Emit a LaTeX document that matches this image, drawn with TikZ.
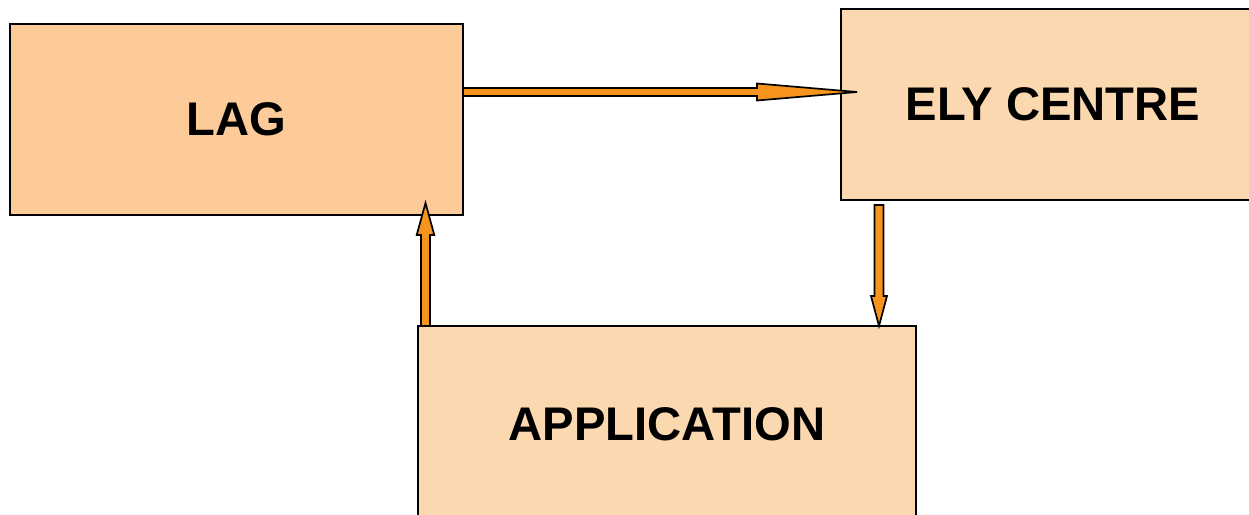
\documentclass[tikz,border=0pt]{standalone}
\usepackage{fontspec}
\setmainfont{Liberation Sans}
\usetikzlibrary{calc}
\definecolor{lagfill}{HTML}{FDCB99}
\definecolor{boxfill}{HTML}{FBD8AF}
\definecolor{arroworange}{HTML}{F7941D}
\tikzset{
  box/.style={draw=black, line width=1.5pt, inner sep=0pt, outer sep=0pt,
    font=\fontsize{47.2}{50}\selectfont\bfseries},
  fat/.style={draw=black, fill=arroworange, line width=1.7pt, line join=miter}
}
\begin{document}
\begin{tikzpicture}[x=1pt,y=-1pt]
\useasboundingbox (0,0) rectangle (1249,514);
\clip (0,0) rectangle (1249,514);
\node[box, fill=lagfill, minimum width=453pt, minimum height=191pt] (lag) at (236.5,119.5) {\raisebox{-1pt}{LAG}};
\node[box, fill=boxfill, minimum width=424pt, minimum height=191pt] (ely) at (1053,104.5) {\raisebox{-2pt}{ELY CENTRE}};
\node[box, fill=boxfill, minimum width=498pt, minimum height=196pt] (app) at (667,424) {APPLICATION};
% LAG -> ELY CENTRE
\coordinate (hs) at ($(lag.north east)+(0,68)$);
\coordinate (ht) at ($(ely.west |- hs)+(16,0)$);
\draw[fat] ($(hs)+(0,-4)$) -- ($(ht)+(-100,-4)$) -- ($(ht)+(-100,-8.5)$) -- (ht)
  -- ($(ht)+(-100,8.5)$) -- ($(ht)+(-100,4)$) -- ($(hs)+(0,4)$) -- cycle;
% ELY CENTRE -> APPLICATION
\coordinate (ds) at ($(ely.south west)+(38,5)$);
\coordinate (dt) at (app.north -| ds);
\draw[fat] ($(ds)+(-4.5,0)$) -- ($(dt)+(-4.5,-30)$) -- ($(dt)+(-8,-30)$) -- (dt)
  -- ($(dt)+(8,-30)$) -- ($(dt)+(4.5,-30)$) -- ($(ds)+(4.5,0)$) -- cycle;
% APPLICATION -> LAG
\coordinate (us) at ($(app.north west)+(7.5,0)$);
\coordinate (ut) at ($(lag.south -| us)+(0,-12)$);
\draw[fat] ($(us)+(-4.5,0)$) -- ($(ut)+(-4.5,32)$) -- ($(ut)+(-8.8,32)$) -- (ut)
  -- ($(ut)+(8.8,32)$) -- ($(ut)+(4.5,32)$) -- ($(us)+(4.5,0)$) -- cycle;
\end{tikzpicture}
\end{document}
